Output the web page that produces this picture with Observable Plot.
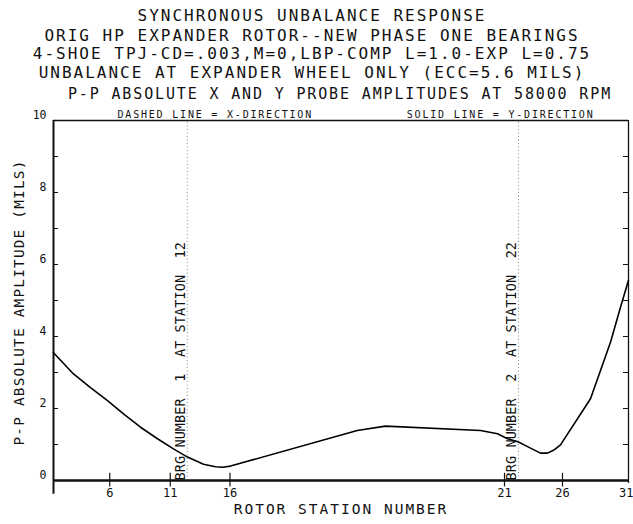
<!DOCTYPE html>
<html>
<head>
<meta charset="utf-8">
<script src="https://cdn.jsdelivr.net/npm/d3@7"></script>
<script src="https://cdn.jsdelivr.net/npm/@observablehq/plot@0.6"></script>
<style>
  html, body { margin: 0; padding: 0; background: #fff; }
  #wrap { position: relative; width: 633px; height: 524px; overflow: hidden; background: #fff; }
  #titles { position: relative; width: 633px; height: 104px; font-family: "DejaVu Sans Mono", monospace; color: #111; }
  .t { position: absolute; white-space: pre; text-align: center; font-size: 16px; line-height: 16px; letter-spacing: 2px; }
  .t5 { font-size: 15px; line-height: 15px; letter-spacing: 1.85px; }
  #chart svg { display: block; }
  g[font-size="10"] { letter-spacing: 1.8px; }
  g[font-size="13.5"] { letter-spacing: 0.1px; }
  g[font-size="14.5"] { letter-spacing: 2px; }
  g[font-size="14.4"] { letter-spacing: 1.2px; }
</style>
</head>
<body>
<div id="wrap">
  <div id="titles"></div>
  <div id="chart"></div>
</div>
<script>
// ---- Title text ----
const titleLines = [
  "SYNCHRONOUS UNBALANCE RESPONSE",
  "ORIG HP EXPANDER ROTOR--NEW PHASE ONE BEARINGS",
  "4-SHOE TPJ-CD=.003,M=0,LBP-COMP L=1.0-EXP L=0.75",
  "UNBALANCE AT EXPANDER WHEEL ONLY (ECC=5.6 MILS)",
  "P-P ABSOLUTE X AND Y PROBE AMPLITUDES AT 58000 RPM"
];
const legendLeft = "DASHED LINE = X-DIRECTION";
const legendRight = "SOLID LINE = Y-DIRECTION";
const xTitle = "ROTOR STATION NUMBER";
const yTitle = "P-P ABSOLUTE AMPLITUDE (MILS)";

// ---- Axis data ----
// rotor stations that carry a tick, and their axial location along the rotor (in)
const stationLabels = [1, 6, 11, 16, 21, 26, 31];
const stationPos = [0, 2.25, 4.67, 7.06, 18.04, 20.36, 23.0];
// stations that are labelled below the axis
const labelledStations = [6, 11, 16, 21, 26];
const lastStation = 31;
const yTicks = [0, 2, 4, 6, 8, 10];
const yMinor = [1, 2, 3, 4, 5, 6, 7, 8, 9];

// ---- Bearings ----
const bearingNumber = [1, 2];
const bearingStation = [12, 22];
const bearingPos = [5.35, 18.6];

// ---- Response curve (Y-direction, solid) ----
const curvePos = [0, 0.8, 1.48, 2.16, 2.8, 3.48, 4.16, 4.8, 5.36, 6.0, 6.48, 6.76, 7.08,
                  12.15, 13.28, 17.08, 17.76, 18.16, 18.6, 19.08, 19.48, 19.76, 20.0, 20.28,
                  21.48, 22.28, 22.68, 23.0];
const ampY = [3.55, 2.96, 2.58, 2.22, 1.85, 1.48, 1.16, 0.88, 0.65, 0.45, 0.38, 0.37, 0.40,
              1.39, 1.51, 1.39, 1.30, 1.16, 1.07, 0.90, 0.76, 0.76, 0.84, 0.99,
              2.27, 3.84, 4.81, 5.56];

// ---- Titles (HTML above the SVG) ----
const titleBox = document.getElementById("titles");
const titleGeom = [
  {top: 7.5, left: 0, width: 624, cls: "t"},
  {top: 27.5, left: 0, width: 624, cls: "t"},
  {top: 45.5, left: 0, width: 624, cls: "t"},
  {top: 64.5, left: 0, width: 624, cls: "t"},
  {top: 87.3, left: 45, width: 590, cls: "t t5"}
];
titleLines.forEach((s, i) => {
  const d = document.createElement("div");
  d.className = titleGeom[i].cls;
  d.style.top = titleGeom[i].top + "px";
  d.style.left = titleGeom[i].left + "px";
  d.style.width = titleGeom[i].width + "px";
  d.textContent = s;
  titleBox.appendChild(d);
});

// ---- Build tables ----
const curve = curvePos.map((p, i) => ({pos: p, amp: ampY[i]}));
const bearings = bearingPos.map((p, i) => ({pos: p, num: bearingNumber[i], station: bearingStation[i]}));
const posOf = new Map(stationLabels.map((s, i) => [s, stationPos[i]]));
const labelMap = new Map(stationPos.map((p, i) => [p, String(stationLabels[i])]));
const NB = "\u00a0";
const ink = "#111";

const chart = Plot.plot({
  width: 633,
  height: 420,
  marginTop: 16,
  marginBottom: 44,
  marginLeft: 53,
  marginRight: 5,
  x: {domain: [0, 23], label: null},
  y: {domain: [0, 10], label: null},
  style: {background: "#fff", fontFamily: "DejaVu Sans Mono", color: ink},
  marks: [
    // bearing locations (dotted)
    Plot.ruleX(bearings, {x: "pos", y1: 0, y2: 10, stroke: "#8a8a8a", strokeWidth: 1, strokeDasharray: "1,2.5"}),
    // frame: top and right
    Plot.ruleY([10], {x1: 0, x2: 23, stroke: ink, strokeWidth: 1.3}),
    Plot.ruleX([23], {y1: -0.08, y2: 10, stroke: ink, strokeWidth: 1.3}),
    // inward minor ticks on left and right
    Plot.ruleY(yMinor, {x1: 0, x2: 0.2, stroke: ink, strokeWidth: 1}),
    Plot.ruleY(yMinor, {x1: 22.8, x2: 23, stroke: ink, strokeWidth: 1}),
    // station ticks crossing the base line
    Plot.ruleX(stationPos.slice(1, -1), {y1: -0.18, y2: 0.2, stroke: ink, strokeWidth: 1.2}),
    // left and bottom axis lines
    Plot.ruleX([0], {y1: -0.38, y2: 10, stroke: ink, strokeWidth: 2}),
    Plot.ruleY([0], {x1: 0, x2: 23, stroke: ink, strokeWidth: 2.3}),
    // response curve
    Plot.line(curve, {x: "pos", y: "amp", stroke: "#000", strokeWidth: 1.6}),
    // bearing annotations
    Plot.text(bearings, {
      x: "pos", y: 0, dx: -7, rotate: -90, textAnchor: "start", fontSize: 13.5, fill: ink,
      text: d => `BRG NUMBER${NB}${NB}${d.num}${NB}${NB}AT STATION${NB}${NB}${d.station}`
    }),
    // axes
    Plot.axisY(yTicks, {anchor: "left", tickSize: 0, tickPadding: 7, dy: -5, fontSize: 11.5, label: null, fill: ink}),
    Plot.axisX(labelledStations.map(s => posOf.get(s)), {anchor: "bottom", tickSize: 0, tickPadding: 8, fontSize: 12, label: null, fill: ink,
      tickFormat: d => labelMap.get(d)}),
    Plot.axisX([posOf.get(lastStation)], {anchor: "bottom", tickSize: 0, tickPadding: 8, fontSize: 12, label: null, fill: ink,
      textAnchor: "end", dx: 5, tickFormat: d => labelMap.get(d)}),
    // legend line
    Plot.text([legendLeft], {frameAnchor: "top-left", dx: 64, dy: -10, textAnchor: "start", fontSize: 10, fill: ink, text: d => d}),
    Plot.text([legendRight], {frameAnchor: "top-right", dx: -34, dy: -10, textAnchor: "end", fontSize: 10, fill: ink, text: d => d}),
    // axis titles
    Plot.text([xTitle], {frameAnchor: "bottom", dy: 33, textAnchor: "middle", fontSize: 14.5, fill: ink, text: d => d}),
    Plot.text([yTitle], {frameAnchor: "left", dx: -34, dy: 2, rotate: -90, textAnchor: "middle", fontSize: 14.4, fill: ink, text: d => d})
  ]
});
document.getElementById("chart").appendChild(chart);
</script>
</body>
</html>
